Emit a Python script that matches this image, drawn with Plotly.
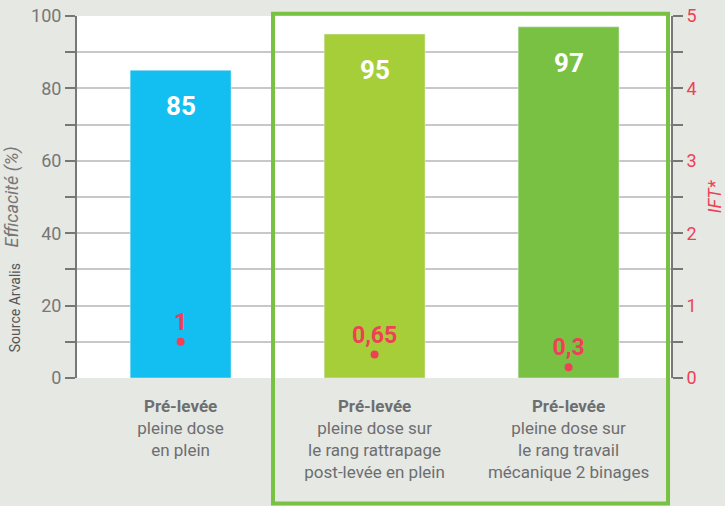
import plotly.graph_objects as go

categories = ["<b>Pré-levée</b><br>pleine dose<br>en plein",
              "<b>Pré-levée</b><br>pleine dose sur<br>le rang rattrapage<br>post-levée en plein",
              "<b>Pré-levée</b><br>pleine dose sur<br>le rang travail<br>mécanique 2 binages"]
efficacite = [85, 95, 97]
ift_values = [1, 0.65, 0.3]
ift_labels = ["1", "0,65", "0,3"]
bar_colors = ["#12bff0", "#a6ce39", "#79c143"]

FONT = "Roboto, Arial"
GREY = "#6d6e71"
RED = "#ee4056"

fig = go.Figure()
fig.add_trace(go.Bar(x=categories, y=efficacite, marker_color=bar_colors, width=0.52,
                     hoverinfo="skip", showlegend=False))
# IFT points (original graphic scales them on 0-10)
fig.add_trace(go.Scatter(x=categories, y=ift_values, yaxis="y3", mode="markers+text",
                         marker=dict(color=RED, size=8), text=ift_labels,
                         textposition="top center",
                         textfont=dict(family=FONT, size=23, color=RED, weight="bold"),
                         showlegend=False, hoverinfo="skip", cliponaxis=False))
# dummy trace for right axis
fig.add_trace(go.Scatter(x=[categories[0]], y=[None], yaxis="y2", showlegend=False))

for c, v in zip(categories, efficacite):
    fig.add_annotation(x=c, y=v, text=f"<b>{v}</b>", showarrow=False, yshift=-36,
                       font=dict(family=FONT, size=26, color="white"))

fig.add_annotation(xref="paper", yref="paper", x=-0.103, y=0.195, text="Source Arvalis",
                   xanchor="center", yanchor="middle",
                   textangle=-90, showarrow=False,
                   font=dict(family=FONT, size=14, color="#555555"))

fig.add_shape(type="rect", xref="paper", yref="paper", x0=0.33, x1=0.995, y0=-0.347, y1=1.006,
              line=dict(color="#79c143", width=4), fillcolor="rgba(0,0,0,0)", layer="above")

fig.update_layout(
    width=725, height=506,
    margin=dict(l=77, r=54, t=16, b=128, autoexpand=False),
    paper_bgcolor="#e6e8e3", plot_bgcolor="white",
    font=dict(family=FONT, color=GREY),
    xaxis=dict(showgrid=False, ticks="", tickfont=dict(size=17, color=GREY),
               range=[-0.534, 2.528],
               ticklabelstandoff=16, showline=False, fixedrange=True, automargin=False),
    yaxis=dict(range=[0, 100], dtick=20, showgrid=True, gridcolor="#c8c8c8", gridwidth=1.5,
               showline=True, linecolor="#777777", linewidth=2, automargin=False,
               ticks="outside", ticklen=10, tickcolor="#777777", tickwidth=2,
               tickfont=dict(size=18, color="#777777"),
               minor=dict(dtick=10, ticks="outside", ticklen=10, tickcolor="#777777",
                          tickwidth=2, showgrid=True, gridcolor="#c8c8c8", gridwidth=1.5),
               title=dict(text="<i>Efficacité (%)</i>", font=dict(size=18, color="#777777"),
                          standoff=8),
               zeroline=False),
    yaxis2=dict(range=[0, 5], dtick=1, overlaying="y", side="right", showgrid=False,
                showline=True, linecolor="#777777", linewidth=2, automargin=False,
                ticks="outside", ticklen=10, tickcolor="#777777", tickwidth=2,
                tickfont=dict(size=18, color=RED),
                minor=dict(dtick=0.5, ticks="outside", ticklen=10, tickcolor="#777777", tickwidth=2),
                title=dict(text="<i>IFT*</i>", font=dict(size=18, color=RED), standoff=14),
                zeroline=False),
    yaxis3=dict(range=[0, 10], overlaying="y", visible=False),
)

fig.write_html("out.html", config={"displayModeBar": False},
               post_script="document.body.style.margin='0';document.body.style.background='#e6e8e3';")
